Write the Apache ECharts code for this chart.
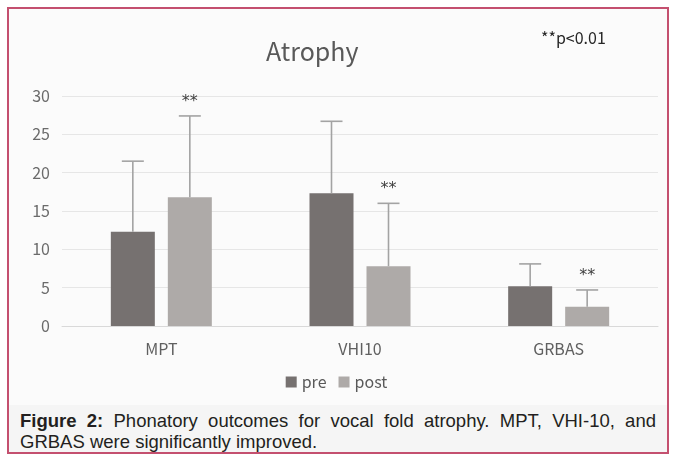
<!DOCTYPE html>
<html>
<head>
<meta charset="utf-8">
<script src="https://cdn.jsdelivr.net/npm/echarts@6/dist/echarts.min.js"></script>
<style>
  html, body { margin: 0; padding: 0; background: #ffffff; }
  #frame { position: absolute; left: 7px; top: 7px; width: 658px; height: 443px; border: 2px solid #c4506f; background: #f5f5f5; overflow: hidden; }
  #chart { position: absolute; left: -9px; top: -9px; width: 673px; height: 405px; }
  #caption { position: absolute; left: 11px; top: 401px; width: 636px; font-family: "Liberation Sans", Arial, sans-serif; font-size: 18.5px; line-height: 21px; color: #231f20; }
  #caption .l1 { display: block; text-align: justify; text-align-last: justify; white-space: nowrap; }
  #caption .l2 { display: block; }
  #caption b { font-weight: bold; }
</style>
</head>
<body>
<div id="frame">
  <div id="chart"></div>
  <div id="caption"><span class="l1"><b>Figure 2:</b> Phonatory outcomes for vocal fold atrophy. MPT, VHI-10, and</span><span class="l2">GRBAS were significantly improved.</span></div>
</div>
<script>
const categories = ['MPT', 'VHI10', 'GRBAS'];
const preMean = [12.3, 17.3, 5.2];
const postMean = [16.8, 7.8, 2.5];
const preUpper = [21.5, 26.7, 8.1];
const postUpper = [27.4, 16.0, 4.7];
const postSig = ['**', '**', '**'];
const yTicks = [0, 5, 10, 15, 20, 25, 30];

const BAR_W = 44;
const GAP = 13;
const OFF = (BAR_W + GAP) / 2;
const FONT = '"Noto Sans CJK JP", "Noto Sans", sans-serif';

function errRender(offset, sigArr) {
  return function (params, api) {
    const i = api.value(0);
    const top = api.coord([i, api.value(2)]);
    const base = api.coord([i, api.value(1)]);
    const x = top[0] + offset;
    const children = [
      { type: 'line', shape: { x1: x, y1: base[1], x2: x, y2: top[1] }, style: { stroke: '#a3a3a3', lineWidth: 1.6 } },
      { type: 'line', shape: { x1: x - 11, y1: top[1], x2: x + 11, y2: top[1] }, style: { stroke: '#a3a3a3', lineWidth: 1.6 } }
    ];
    if (sigArr && sigArr[params.dataIndex]) {
      children.push({ type: 'text', style: { text: sigArr[params.dataIndex], x: x, y: top[1] - 6, textAlign: 'center', textVerticalAlign: 'bottom', fill: '#404040', font: '16px "DejaVu Sans", sans-serif' } });
    }
    return { type: 'group', children: children };
  };
}

const chart = echarts.init(document.getElementById('chart'), null, { renderer: 'canvas' });
chart.setOption({
  backgroundColor: '#fbfbfb',
  animation: false,
  title: [
    { text: 'Atrophy', left: 261, top: 34, textStyle: { fontFamily: FONT, fontWeight: 'normal', fontSize: 25, color: '#595959' } },
    { text: '**p<0.01', left: 536, top: 25, textStyle: { fontFamily: FONT, fontWeight: 'normal', fontSize: 16, color: '#262626' } }
  ],
  legend: {
    data: ['pre', 'post'],
    top: 369, left: 'center',
    itemWidth: 11, itemHeight: 11, itemGap: 12,
    icon: 'rect',
    textStyle: { fontFamily: FONT, fontSize: 16, color: '#595959' }
  },
  grid: { left: 62, right: 15, top: 96, bottom: 79, containLabel: false },
  xAxis: {
    type: 'category', data: categories,
    axisLine: { show: true, lineStyle: { color: '#d9d9d9' } },
    axisTick: { show: false },
    axisLabel: { margin: 15, fontFamily: FONT, fontSize: 16, color: '#606060' }
  },
  yAxis: {
    type: 'value', min: yTicks[0], max: yTicks[yTicks.length - 1], interval: 5,
    axisLine: { show: false }, axisTick: { show: false },
    splitLine: { lineStyle: { color: '#e6e6e6' } },
    axisLabel: { margin: 12, fontFamily: FONT, fontSize: 16, color: '#6b6b6b' }
  },
  series: [
    { name: 'pre', type: 'bar', data: preMean, barWidth: BAR_W, barGap: (GAP / BAR_W * 100) + '%', itemStyle: { color: '#767170' } },
    { name: 'post', type: 'bar', data: postMean, barWidth: BAR_W, itemStyle: { color: '#aeaaa8' } },
    { name: 'preErr', type: 'custom', renderItem: errRender(-OFF, null), data: categories.map((c, i) => [i, preMean[i], preUpper[i]]), z: 5 },
    { name: 'postErr', type: 'custom', renderItem: errRender(OFF, postSig), data: categories.map((c, i) => [i, postMean[i], postUpper[i]]), z: 5 }
  ]
});
</script>
</body>
</html>
